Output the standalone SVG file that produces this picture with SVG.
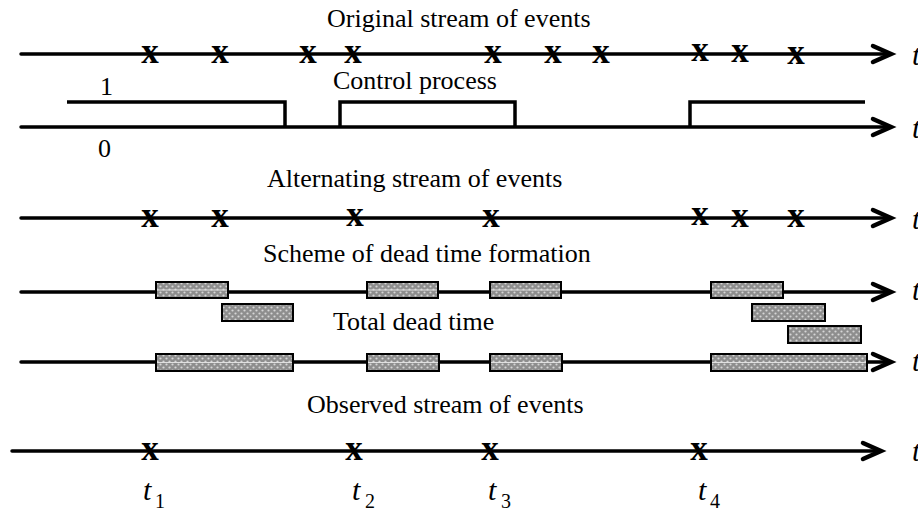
<svg xmlns="http://www.w3.org/2000/svg" xmlns:xlink="http://www.w3.org/1999/xlink" width="918" height="511" viewBox="0 0 918 511">
<style>
.cap{font-family:"Liberation Serif","Times New Roman",serif;font-size:26px;fill:#000}
.ev{font-family:"Liberation Serif","Times New Roman",serif;font-size:35px;font-weight:600;fill:#000;text-anchor:middle}
.tl{font-family:"Liberation Serif","Times New Roman",serif;font-size:30px;font-style:italic;fill:#000}
.sub{font-family:"Liberation Serif","Times New Roman",serif;font-size:20px;fill:#000}
.ax{stroke:#000;stroke-width:3.5;fill:none;stroke-linecap:round}
.ctl{stroke:#000;stroke-width:3.5;fill:none;stroke-linejoin:miter}
.ah{stroke:#000;stroke-width:4.5;fill:none;stroke-linejoin:miter;stroke-linecap:round}
.bx{fill:url(#hatch);stroke:#000;stroke-width:2}
.mid{stroke:#e0e0e0;stroke-width:1.2}
</style>
<defs>
<pattern id="hatch" width="6" height="6" patternUnits="userSpaceOnUse">
<rect width="6" height="6" fill="#8e8e8e"/>
<circle cx="1.5" cy="1.5" r="1.1" fill="#d6d6d6"/>
<circle cx="4.5" cy="4.5" r="1.1" fill="#d6d6d6"/>
</pattern>
<path id="ah" class="ah" d="M-18,-8 L0,0 L-18,8"/>
</defs>

<g id="connectors">
<line class="ax" x1="21" y1="54" x2="889" y2="54"/>
<use xlink:href="#ah" x="891" y="54"/>
<line class="ax" x1="21" y1="127" x2="889" y2="127"/>
<use xlink:href="#ah" x="891" y="127"/>
<line class="ax" x1="21" y1="218" x2="889" y2="218"/>
<use xlink:href="#ah" x="891" y="218"/>
<line class="ax" x1="21" y1="292" x2="889" y2="292"/>
<use xlink:href="#ah" x="891" y="292"/>
<line class="ax" x1="21" y1="362" x2="889" y2="362"/>
<line class="ax" x1="12" y1="451" x2="879" y2="451"/>
<use xlink:href="#ah" x="881" y="451"/>
</g>

<g id="original-stream">
<text class="cap" x="327" y="27">Original stream of events</text>
<text class="ev" x="150" y="63">x</text>
<text class="ev" x="220" y="63">x</text>
<text class="ev" x="308" y="63">x</text>
<text class="ev" x="353" y="63">x</text>
<text class="ev" x="493" y="63">x</text>
<text class="ev" x="553" y="63">x</text>
<text class="ev" x="601" y="63">x</text>
<text class="ev" x="700" y="61">x</text>
<text class="ev" x="740" y="62">x</text>
<text class="ev" x="796" y="64">x</text>
<text class="tl" x="912" y="65">t</text>
</g>

<g id="control-process">
<text class="cap" x="333" y="89">Control process</text>
<text class="cap" x="100" y="95">1</text>
<text class="cap" x="98" y="157">0</text>
<path class="ctl" d="M67,102 H285 V127"/>
<path class="ctl" d="M340,127 V102 H515 V127"/>
<path class="ctl" d="M690,127 V102 H865"/>
<text class="tl" x="912" y="138">t</text>
</g>

<g id="alternating-stream">
<text class="cap" x="267" y="187">Alternating stream of events</text>
<text class="ev" x="150" y="227">x</text>
<text class="ev" x="220" y="227">x</text>
<text class="ev" x="355" y="226">x</text>
<text class="ev" x="491" y="227">x</text>
<text class="ev" x="700" y="225">x</text>
<text class="ev" x="740" y="227">x</text>
<text class="ev" x="796" y="227">x</text>
<text class="tl" x="912" y="229">t</text>
</g>

<g id="dead-time-scheme">
<text class="cap" x="263" y="262">Scheme of dead time formation</text>
<rect class="bx" x="156" y="282" width="72" height="16"/>
<line class="mid" x1="157" y1="290" x2="227" y2="290"/>
<rect class="bx" x="367" y="282" width="71" height="16"/>
<line class="mid" x1="368" y1="290" x2="437" y2="290"/>
<rect class="bx" x="490" y="282" width="71" height="16"/>
<line class="mid" x1="491" y1="290" x2="560" y2="290"/>
<rect class="bx" x="711" y="282" width="72" height="16"/>
<line class="mid" x1="712" y1="290" x2="782" y2="290"/>
<rect class="bx" x="222" y="304" width="71" height="17"/>
<rect class="bx" x="752" y="304" width="73" height="17"/>
<rect class="bx" x="788" y="326" width="73" height="17"/>
<text class="tl" x="912" y="300">t</text>
</g>

<g id="total-dead-time">
<text class="cap" x="333" y="330">Total dead time</text>
<rect class="bx" x="156" y="354" width="137" height="17"/>
<line class="mid" x1="157" y1="362.5" x2="292" y2="362.5"/>
<rect class="bx" x="367" y="354" width="72" height="17"/>
<line class="mid" x1="368" y1="362.5" x2="438" y2="362.5"/>
<rect class="bx" x="490" y="354" width="72" height="17"/>
<line class="mid" x1="491" y1="362.5" x2="561" y2="362.5"/>
<rect class="bx" x="711" y="354" width="156" height="17"/>
<line class="mid" x1="712" y1="362.5" x2="866" y2="362.5"/>
<use xlink:href="#ah" x="891" y="362"/>
<text class="tl" x="912" y="371">t</text>
</g>

<g id="observed-stream">
<text class="cap" x="307" y="413">Observed stream of events</text>
<text class="ev" x="150" y="460">x</text>
<text class="ev" x="354" y="460">x</text>
<text class="ev" x="490" y="460">x</text>
<text class="ev" x="699" y="460">x</text>
<text class="tl" x="912" y="461">t</text>
<text class="tl" x="143" y="500">t</text><text class="sub" x="155" y="508">1</text>
<text class="tl" x="352" y="500">t</text><text class="sub" x="365" y="508">2</text>
<text class="tl" x="488" y="500">t</text><text class="sub" x="501" y="508">3</text>
<text class="tl" x="698" y="500">t</text><text class="sub" x="710" y="508">4</text>
</g>
</svg>
